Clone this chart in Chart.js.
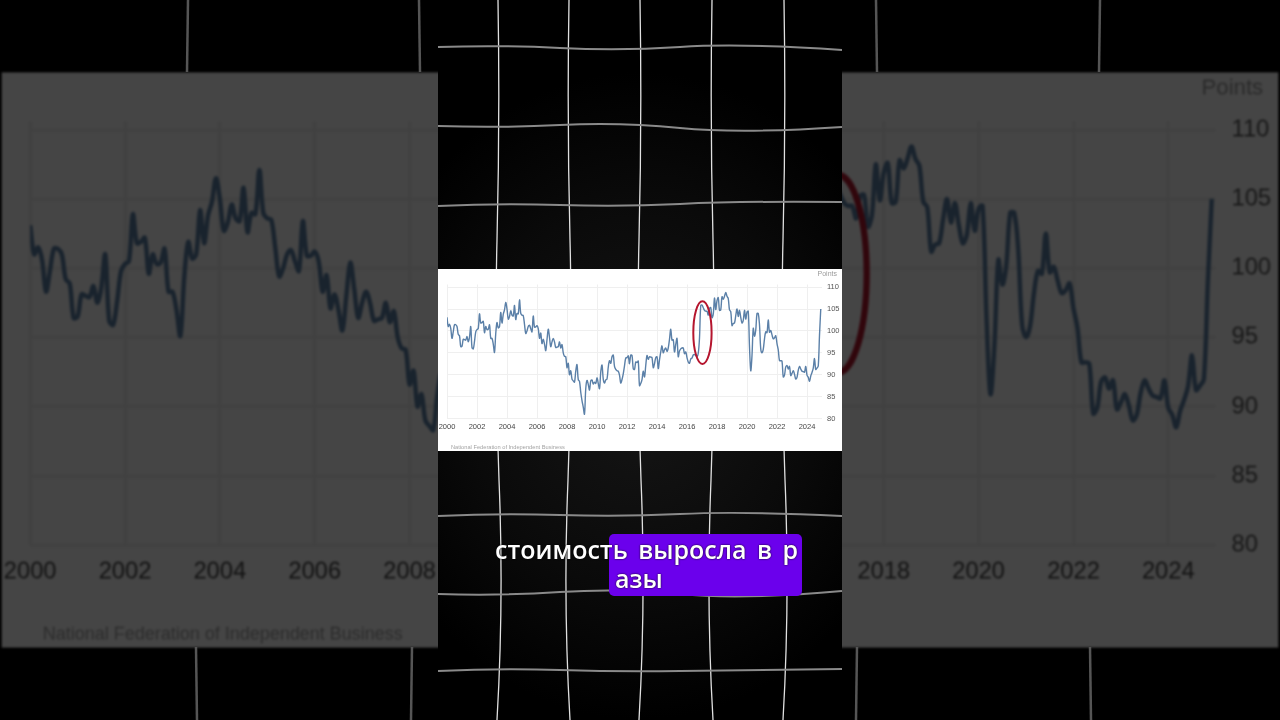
<!DOCTYPE html>
<html lang="ru">
<head>
<meta charset="UTF-8" />
<title>NFIB Small Business Optimism</title>
<script src="https://cdn.jsdelivr.net/npm/chart.js"></script>
<style>
  html, body { margin: 0; padding: 0; width: 1280px; height: 720px; overflow: hidden; background: #000; }
  .caixa { position: absolute; left: 438px; top: 269px; width: 404px; height: 182px; background: #fff; }
  /* copia ampliada e escurecida do grafico, atras de tudo */
  #fundo { transform: scale(3.16); transform-origin: 50% 50%; filter: brightness(0.27) blur(0.35px); z-index: 1; }
  .coluna { position: absolute; left: 438px; top: 0; width: 404px; height: 720px; z-index: 2;
    background: radial-gradient(ellipse 70% 45% at 50% 55%, #161616 0%, #0a0a0a 60%, #000 100%); }
  svg.grade { position: absolute; left: 0; top: 0; z-index: 3; }
  #frente { z-index: 4; }
  .faixa { position: absolute; left: 609px; top: 534px; width: 193px; height: 62px; background: #6b00ec; border-radius: 5px; z-index: 5; }
  .legenda { position: absolute; z-index: 6; color: #fff; font-family: "Open Sans", "Noto Sans", sans-serif; font-weight: 600;
    font-size: 25px; line-height: 28px; white-space: nowrap; text-shadow: 0 0 2px #000; word-spacing: 4px; }
</style>
</head>
<body>
  <div class="caixa" id="fundo"><canvas id="graficoFundo"></canvas></div>
  <div class="coluna"></div>
  <svg class="grade" width="1280" height="720" fill="none">
    <g stroke="#e0e0e0" stroke-width="1.3">
      <path d="M498,0 Q500,120 497,240 T499,480 T497,720" />
      <path d="M569,0 Q567,120 570,240 T568,480 T570,720" />
      <path d="M640,0 Q642,120 639,240 T641,480 T639,720" />
      <path d="M712,0 Q710,120 713,240 T711,480 T713,720" />
      <path d="M784,0 Q786,120 783,240 T785,480 T783,720" />
    </g>
    <g stroke="#8a8a8a" stroke-width="2">
      <path d="M438,47 Q500,45 560,48 T680,47 T842,50" />
      <path d="M438,126 Q500,128 560,125 T680,128 T842,127" />
      <path d="M438,206 Q500,203 560,205 T680,204 T842,202" />
      <path d="M438,516 Q500,513 560,515 T680,514 T842,516" />
      <path d="M438,594 Q500,596 560,592 T680,594 T842,591" />
      <path d="M438,671 Q500,668 560,670 T680,671 T842,669" />
    </g>
    <g stroke="#555" stroke-width="2.5">
      <path d="M188,0 L187,72" /><path d="M419,0 L420,72" />
      <path d="M876,0 L877,72" /><path d="M1100,0 L1099,72" />
      <path d="M196,647 L197,720" /><path d="M412,647 L411,720" />
      <path d="M857,647 L856,720" /><path d="M1090,647 L1091,720" />
    </g>
  </svg>
  <div class="caixa" id="frente"><canvas id="graficoFrente"></canvas></div>
  <div class="faixa"></div>
  <div class="legenda" style="left:495px; top:535px;">стоимость выросла в р</div>
  <div class="legenda" style="left:615px; top:564px;">азы</div>

<script>
  // indice de otimismo NFIB, mensal, jan/2000 a dez/2024
  const anoInicial = 2000;
  const indice = [
    103.1, 101.0, 101.5, 100.6, 98.3, 99.8, 101.4, 101.4, 101.0, 99.2, 98.9, 96.4,   // 2000
    96.5, 98.1, 98.0, 97.9, 98.7, 97.5, 98.6, 101.0, 96.2, 95.9, 97.6, 99.8,         // 2001
    100.3, 100.5, 103.9, 101.8, 101.9, 102.2, 99.6, 101.0, 100.3, 100.4, 101.4, 98.3, // 2002
    98.3, 97.0, 95.1, 99.4, 101.9, 100.7, 101.0, 104.2, 101.8, 103.8, 104.8, 106.5,  // 2003
    105.0, 102.7, 103.3, 104.6, 103.6, 103.4, 105.8, 102.6, 104.0, 103.9, 107.1, 104.0, // 2004
    103.6, 103.5, 101.5, 99.4, 100.0, 101.0, 101.3, 100.5, 99.8, 103.4, 100.9, 100.9, // 2005
    101.2, 100.5, 98.3, 99.5, 97.1, 98.1, 97.0, 95.5, 98.0, 100.4, 98.5, 96.4,       // 2006
    97.5, 98.3, 97.5, 96.2, 96.3, 96.4, 97.5, 96.1, 96.9, 95.0, 94.2, 94.1,          // 2007
    91.6, 92.6, 90.0, 90.9, 89.0, 88.6, 88.3, 90.8, 92.3, 88.9, 88.5, 86.0,          // 2008
    84.1, 82.6, 81.0, 86.8, 88.7, 87.8, 86.5, 88.6, 88.8, 87.9, 88.3, 88.0,          // 2009
    89.3, 88.0, 86.8, 90.6, 92.2, 89.0, 88.1, 88.8, 89.0, 91.7, 93.2, 92.6,          // 2010
    94.1, 94.5, 91.9, 91.2, 90.9, 90.8, 89.9, 88.1, 88.9, 90.2, 92.0, 93.8,          // 2011
    93.9, 94.3, 92.5, 94.5, 94.4, 91.4, 91.2, 92.9, 92.8, 93.1, 87.5, 88.0,          // 2012
    88.9, 90.8, 89.5, 92.1, 94.4, 93.5, 94.1, 94.0, 93.9, 91.6, 92.5, 93.9,          // 2013
    94.1, 91.4, 93.4, 95.2, 96.6, 95.0, 95.7, 96.1, 95.3, 96.1, 98.1, 100.4,         // 2014
    97.9, 98.0, 95.2, 96.9, 98.3, 94.1, 95.4, 95.9, 96.1, 96.1, 94.8, 95.2,          // 2015
    93.9, 92.9, 92.6, 93.6, 93.8, 94.5, 94.6, 94.4, 94.1, 94.9, 98.4, 105.8,         // 2016
    105.9, 105.3, 104.7, 104.5, 104.5, 103.6, 105.2, 105.3, 103.0, 103.8, 107.5, 104.9, // 2017
    106.9, 107.6, 104.7, 104.8, 107.8, 107.2, 107.9, 108.8, 107.9, 107.4, 104.8, 104.4, // 2018
    101.2, 101.7, 101.8, 103.5, 105.0, 103.3, 104.7, 103.1, 101.8, 102.4, 104.7, 102.7, // 2019
    104.3, 104.5, 96.4, 90.9, 94.4, 100.6, 98.8, 100.2, 104.0, 104.0, 101.4, 95.9,   // 2020
    95.0, 95.8, 98.2, 99.8, 99.6, 102.5, 99.7, 100.1, 99.1, 98.2, 98.4, 98.9,        // 2021
    97.1, 95.7, 93.2, 93.2, 93.1, 89.5, 89.9, 91.8, 92.1, 91.3, 91.9, 89.8,          // 2022
    90.3, 90.9, 90.1, 89.0, 89.4, 91.0, 91.9, 91.3, 90.8, 90.7, 90.6, 91.9,          // 2023
    89.9, 89.4, 88.5, 89.7, 90.5, 91.5, 93.7, 91.2, 91.5, 92.0, 99.0, 105.0          // 2024
  ];
  const anosEixo = [2000, 2002, 2004, 2006, 2008, 2010, 2012, 2014, 2016, 2018, 2020, 2022, 2024];
  const valoresEixo = [80, 85, 90, 95, 100, 105, 110];
  const fonte = "National Federation of Independent Business";
  const unidade = "Points";

  // elipse vermelha desenhada no video (fim de 2016)
  const marcaAno = 2017.03;
  const marcaValor = 99.6;
  const marcaMeiaLargura = 0.61;
  const marcaMeiaAltura = 7.15;

  Chart.defaults.font.family = '"Liberation Sans", Arial, sans-serif';

  const pontos = indice.map((v, i) => ({ x: anoInicial + i / 12, y: v }));

  const extras = {
    id: "extras",
    afterDatasetsDraw(chart) {
      const ctx = chart.ctx;
      const x = chart.scales.x;
      const y = chart.scales.y;
      const cx = x.getPixelForValue(marcaAno);
      const cy = y.getPixelForValue(marcaValor);
      const rx = Math.abs(x.getPixelForValue(marcaAno + marcaMeiaLargura) - cx);
      const ry = Math.abs(y.getPixelForValue(marcaValor + marcaMeiaAltura) - cy);
      ctx.save();
      ctx.strokeStyle = "#b5152e";
      ctx.lineWidth = 2;
      ctx.beginPath();
      ctx.ellipse(cx, cy, rx, ry, 0, 0, Math.PI * 2);
      ctx.stroke();
      ctx.textBaseline = "middle";
      // unidade no alto, a direita
      ctx.fillStyle = "#9b9b9b";
      ctx.font = '7px "Liberation Sans", Arial, sans-serif';
      ctx.textAlign = "right";
      ctx.fillText(unidade, chart.width - 5, 5);
      // fonte dos dados, canto inferior esquerdo
      ctx.fillStyle = "#a3a3a3";
      ctx.font = '5.7px "Liberation Sans", Arial, sans-serif';
      ctx.textAlign = "left";
      ctx.fillText(fonte, chart.chartArea.left + 4, chart.height - 4);
      ctx.restore();
    },
  };

  function montarGrafico(idCanvas, escala) {
    return new Chart(document.getElementById(idCanvas), {
      type: "line",
      data: {
        datasets: [
          {
            data: pontos,
            borderColor: "#5b80a8",
            borderWidth: 1.4,
            pointRadius: 0,
            tension: 0.35,
            fill: false,
          },
        ],
      },
      options: {
        responsive: true,
        maintainAspectRatio: false,
        animation: false,
        devicePixelRatio: escala,
        layout: { padding: { left: 0, right: 1, top: 15.5, bottom: 15.5 } },
        plugins: {
          legend: { display: false },
          tooltip: { enabled: false },
        },
        scales: {
          x: {
            type: "linear",
            min: 2000,
            max: 2025,
            afterBuildTicks: (eixo) => {
              eixo.ticks = anosEixo.map((v) => ({ value: v }));
            },
            afterFit: (eixo) => {
              eixo.paddingLeft = 9;
              eixo.paddingRight = 0;
            },
            ticks: { color: "#444", font: { size: 7.5 }, padding: 4, maxRotation: 0, autoSkip: false, callback: (v) => String(v) },
            grid: { color: "#efefef", drawTicks: false },
            border: { display: false },
          },
          y: {
            position: "right",
            min: 80,
            max: 110.6,
            afterBuildTicks: (eixo) => {
              eixo.ticks = valoresEixo.map((v) => ({ value: v }));
            },
            afterFit: (eixo) => {
              eixo.width = 19;
            },
            ticks: { color: "#555", font: { size: 7.5 }, padding: 5 },
            grid: { color: "#efefef", drawTicks: false },
            border: { display: false },
          },
        },
      },
      plugins: [extras],
    });
  }

  montarGrafico("graficoFundo", 3.16);
  montarGrafico("graficoFrente", 1);
</script>
</body>
</html>
